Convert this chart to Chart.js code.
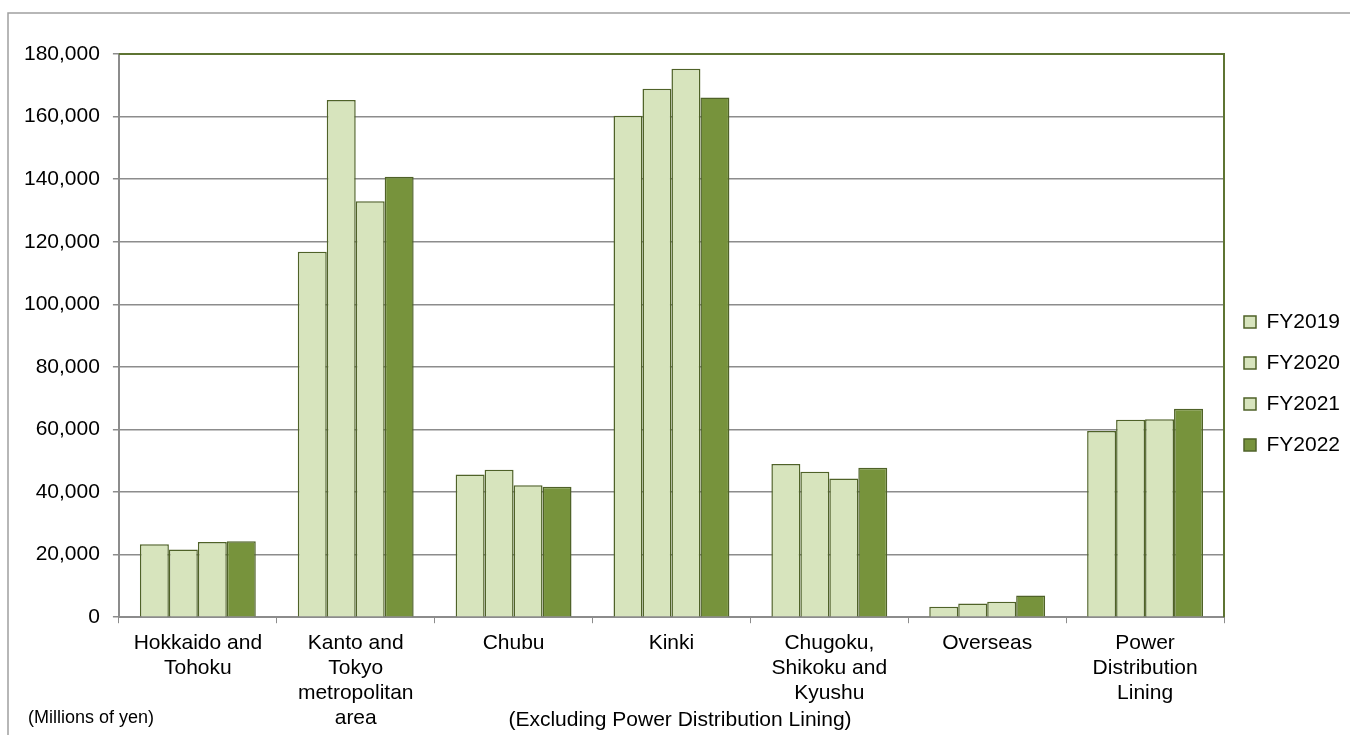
<!DOCTYPE html>
<html>
<head>
<meta charset="utf-8">
<script src="https://cdn.jsdelivr.net/npm/chart.js@4.4.1/dist/chart.umd.min.js"></script>
<style>
  html, body { margin: 0; padding: 0; background: #ffffff; }
  #wrap { position: relative; width: 1350px; height: 735px; overflow: hidden; }
  canvas { display: block; }
</style>
</head>
<body>
<div id="wrap"><canvas id="c" width="1350" height="735"></canvas></div>
<script>
const categories = [
  ['Hokkaido and', 'Tohoku'],
  ['Kanto and', 'Tokyo', 'metropolitan', 'area'],
  'Chubu',
  'Kinki',
  ['Chugoku,', 'Shikoku and', 'Kyushu'],
  'Overseas',
  ['Power', 'Distribution', 'Lining']
];
const seriesNames = ['FY2019', 'FY2020', 'FY2021', 'FY2022'];
const fy2019 = [23300, 116800, 45600, 160300, 49000, 3300, 59500];
const fy2020 = [21600, 165300, 47100, 168900, 46500, 4400, 63100];
const fy2021 = [24000, 132900, 42200, 175300, 44300, 4900, 63300];
const fy2022 = [24300, 140800, 41700, 166100, 47800, 6900, 66600];
const yTicks = [0, 20000, 40000, 60000, 80000, 100000, 120000, 140000, 160000, 180000];
const unitNote = '(Millions of yen)';
const footNote = '(Excluding Power Distribution Lining)';

const FONT = "'Liberation Sans', Arial, sans-serif";
const LIGHT = '#D7E4BD';
const DARK = '#77933C';
const EDGE = '#4F6228';
const GRID = '#8C8C8C';

const seriesValues = [fy2019, fy2020, fy2021, fy2022];
const datasets = seriesNames.map((name, i) => ({
  label: name,
  data: seriesValues[i],
  backgroundColor: i === 3 ? DARK : LIGHT,
  borderColor: EDGE,
  borderWidth: 1.5,
  categoryPercentage: 0.734,
  barPercentage: 1.0
}));

const decor = {
  id: 'decor',
  beforeDraw(chart) {
    const ctx = chart.ctx;
    ctx.save();
    ctx.strokeStyle = '#A0A0A0';
    ctx.lineWidth = 1.5;
    ctx.beginPath();
    ctx.moveTo(8, 740);
    ctx.lineTo(8, 13);
    ctx.lineTo(1360, 13);
    ctx.stroke();
    ctx.restore();
  },
  afterDraw(chart) {
    const ctx = chart.ctx;
    const a = chart.chartArea;
    ctx.save();
    ctx.strokeStyle = '#5E7432';
    ctx.lineWidth = 2;
    ctx.beginPath();
    ctx.moveTo(a.left, a.top);
    ctx.lineTo(a.right, a.top);
    ctx.lineTo(a.right, a.bottom);
    ctx.stroke();
    ctx.fillStyle = '#000';
    ctx.textBaseline = 'middle';
    ctx.font = '18px ' + FONT;
    ctx.textAlign = 'left';
    ctx.fillText(unitNote, 28, 718);
    ctx.font = '21px ' + FONT;
    ctx.textAlign = 'center';
    ctx.fillText(footNote, 680, 720);
    ctx.restore();
  }
};

new Chart(document.getElementById('c'), {
  type: 'bar',
  data: { labels: categories, datasets: datasets },
  options: {
    responsive: false,
    animation: false,
    devicePixelRatio: 1,
    layout: { padding: { top: 54, left: 11, right: 0, bottom: -3 } },
    plugins: {
      tooltip: { enabled: false },
      legend: {
        position: 'right',
        align: 'start',
        maxWidth: 126,
        title: { display: true, text: ' ', font: { size: 12, family: FONT }, padding: { top: 0, bottom: 223 } },
        labels: {
          font: { size: 21, family: FONT },
          color: '#000',
          boxWidth: 12,
          boxHeight: 12,
          padding: 20
        }
      }
    },
    scales: {
      x: {
        offset: true,
        grid: {
          display: true,
          drawOnChartArea: false,
          drawTicks: true,
          tickLength: 6,
          color: GRID,
          offset: true
        },
        border: { display: true, color: GRID, width: 2 },
        ticks: {
          autoSkip: false,
          maxRotation: 0,
          minRotation: 0,
          padding: 7,
          color: '#000',
          font: { size: 21, family: FONT, lineHeight: 1.2 }
        }
      },
      y: {
        min: 0,
        max: 180000,
        afterBuildTicks(scale) { scale.ticks = yTicks.map(v => ({ value: v })); },
        grid: {
          color: GRID,
          lineWidth: 1.5,
          drawTicks: true,
          tickLength: 6
        },
        border: { display: true, color: GRID, width: 2 },
        ticks: {
          padding: 13,
          color: '#000',
          font: { size: 21, family: FONT },
          callback: (v) => Number(v).toLocaleString('en-US')
        }
      }
    }
  },
  plugins: [decor]
});
</script>
</body>
</html>
